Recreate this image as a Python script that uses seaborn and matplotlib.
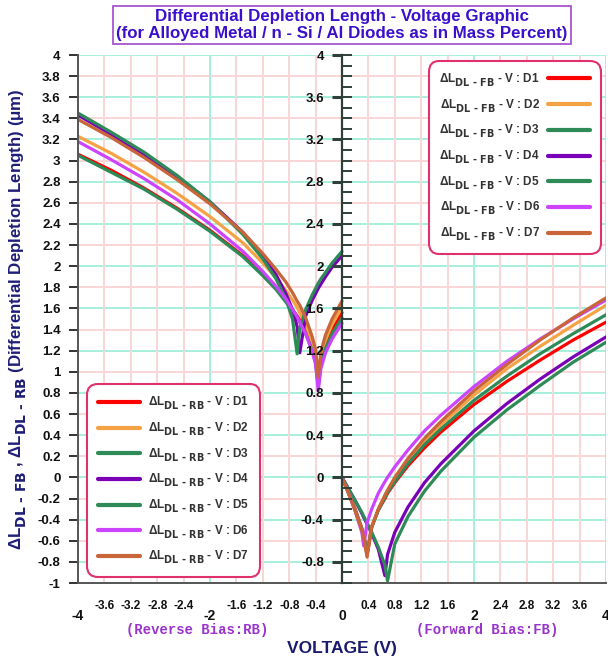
import numpy as np
import pandas as pd
import matplotlib
matplotlib.use("Agg")
import matplotlib.pyplot as plt
import matplotlib.transforms as mtransforms
import matplotlib._mathtext as _mt
from matplotlib.lines import Line2D
from matplotlib.ticker import FixedLocator, FuncFormatter
import seaborn as sns

# diodes and their colours
diodes = ["D1", "D2", "D3", "D4", "D5", "D6", "D7"]
colors = ["#ff0000", "#f5a245", "#2e8b57", "#7a00b8", "#2e8b57", "#cc44ff", "#c8663a"]

# reverse bias branch (V from -4 to 0)
v_rb = [-4.0, -3.5, -3.0, -2.5, -2.0, -1.5, -1.2, -1.0, -0.85, -0.75,
        -0.68, -0.64, -0.55, -0.45, -0.4, -0.36, -0.32, -0.25, -0.15, 0.0]
rb_d1 = [3.06, 2.91, 2.74, 2.55, 2.34, 2.10, 1.93, 1.79, 1.68, 1.59, 1.53, 1.49, 1.38, 1.22, 1.11, 0.88, 1.11, 1.26, 1.40, 1.56]
rb_d2 = [3.23, 3.07, 2.89, 2.69, 2.47, 2.22, 2.03, 1.89, 1.77, 1.68, 1.61, 1.56, 1.45, 1.28, 1.16, 0.92, 1.15, 1.30, 1.45, 1.61]
rb_d3 = [3.05, 2.89, 2.73, 2.54, 2.33, 2.09, 1.91, 1.78, 1.66, 1.58, 1.51, 1.47, 1.36, 1.20, 1.09, 0.86, 1.08, 1.22, 1.36, 1.51]
rb_d4 = [3.43, 3.25, 3.06, 2.85, 2.61, 2.32, 2.10, 1.92, 1.74, 1.59, 1.43, 1.18, 1.53, 1.68, 1.74, 1.79, 1.83, 1.90, 1.99, 2.10]
rb_d5 = [3.45, 3.27, 3.08, 2.86, 2.61, 2.30, 2.07, 1.88, 1.69, 1.50, 1.17, 1.41, 1.59, 1.73, 1.79, 1.84, 1.88, 1.94, 2.03, 2.14]
rb_d6 = [3.18, 3.01, 2.83, 2.63, 2.40, 2.14, 1.95, 1.81, 1.69, 1.59, 1.52, 1.47, 1.36, 1.19, 1.07, 0.82, 1.03, 1.18, 1.31, 1.46]
rb_d7 = [3.39, 3.22, 3.03, 2.82, 2.59, 2.32, 2.12, 1.97, 1.85, 1.75, 1.67, 1.63, 1.51, 1.33, 1.21, 0.95, 1.19, 1.35, 1.50, 1.67]

# forward bias branch (V from 0 to 4)
v_fb = [0.0, 0.1, 0.2, 0.3, 0.33, 0.38, 0.45, 0.55, 0.65, 0.69,
        0.8, 1.0, 1.25, 1.5, 2.0, 2.5, 3.0, 3.5, 4.0]
fb_d1 = [0, -0.15, -0.30, -0.48, -0.54, -0.72, -0.47, -0.31, -0.20, -0.15, -0.05, 0.11, 0.28, 0.43, 0.69, 0.91, 1.11, 1.30, 1.47]
fb_d2 = [0, -0.15, -0.31, -0.49, -0.56, -0.74, -0.47, -0.30, -0.17, -0.13, -0.02, 0.16, 0.34, 0.50, 0.78, 1.03, 1.24, 1.44, 1.63]
fb_d3 = [0, -0.15, -0.31, -0.49, -0.55, -0.73, -0.47, -0.31, -0.19, -0.14, -0.04, 0.13, 0.31, 0.46, 0.73, 0.96, 1.17, 1.36, 1.54]
fb_d4 = [0, -0.11, -0.22, -0.34, -0.38, -0.44, -0.53, -0.68, -0.93, -0.73, -0.52, -0.28, -0.05, 0.13, 0.44, 0.70, 0.93, 1.14, 1.33]
fb_d5 = [0, -0.11, -0.22, -0.33, -0.37, -0.43, -0.52, -0.66, -0.83, -0.98, -0.63, -0.37, -0.13, 0.06, 0.38, 0.64, 0.87, 1.09, 1.28]
fb_d6 = [0, -0.15, -0.32, -0.52, -0.65, -0.43, -0.30, -0.15, -0.04, 0.00, 0.10, 0.26, 0.44, 0.59, 0.86, 1.10, 1.31, 1.50, 1.68]
fb_d7 = [0, -0.15, -0.32, -0.50, -0.57, -0.755, -0.47, -0.30, -0.17, -0.12, 0.00, 0.18, 0.37, 0.53, 0.82, 1.07, 1.30, 1.51, 1.70]

rb_vals = [rb_d1, rb_d2, rb_d3, rb_d4, rb_d5, rb_d6, rb_d7]
fb_vals = [fb_d1, fb_d2, fb_d3, fb_d4, fb_d5, fb_d6, fb_d7]


def long_table(v, series):
    rows = []
    for name, vals in zip(diodes, series):
        for x, y in zip(v, vals):
            rows.append((name, x, y))
    return pd.DataFrame(rows, columns=["diode", "V", "L"])


df_rb = long_table(v_rb, rb_vals)
df_fb = long_table(v_fb, fb_vals)

sns.set_theme(style="white")
plt.rcParams.update({
    'font.weight': 'bold',
    'mathtext.default': 'regular',
    'axes.facecolor': 'white',
    'figure.facecolor': 'white',
})
plt.rcParams['font.family'] = ['Liberation Sans', 'DejaVu Sans']

# bigger and lower subscripts, like the original
_mt.SHRINK_FACTOR = 0.82
for name in dir(_mt):
    obj = getattr(_mt, name)
    if isinstance(obj, type) and name.endswith("FontConstants") or name == "FontConstantsBase":
        obj.sub1 = 0.6
        obj.sub2 = 0.6

fig = plt.figure(figsize=(6.08, 6.62), dpi=100)
ax = fig.add_axes([78 / 608, 79 / 662, 528 / 608, 528 / 662])
ax.set_xlim(-4, 4)
ax.set_ylim(-1, 4)

# grid: teal on the 0.4 steps, pink in between
teal, pink = "#a6f0dc", "#fad6d6"
for y in np.round(np.arange(-0.8, 4.01, 0.2), 1):
    c = teal if abs(round(y / 0.4) * 0.4 - y) < 1e-6 else pink
    ax.axhline(y, color=c, lw=1.4, zorder=0.5)
for x in np.round(np.arange(-3.6, 4.01, 0.4), 1):
    c = teal if abs(x) in (0.0, 2.0, 4.0) else pink
    ax.axvline(x, color=c, lw=1.4, zorder=0.5)

pal = dict(zip(diodes, colors))
sns.lineplot(data=df_rb, x="V", y="L", hue="diode", palette=pal, estimator=None,
             legend=False, linewidth=2.3, ax=ax)
sns.lineplot(data=df_fb, x="V", y="L", hue="diode", palette=pal, estimator=None,
             legend=False, linewidth=2.3, ax=ax)
ax.set_xlabel("")
ax.set_ylabel("")

for s in ["top", "right"]:
    ax.spines[s].set_visible(False)
for s in ["left", "bottom"]:
    ax.spines[s].set_color("#555555")
    ax.spines[s].set_linewidth(1.4)

fmt = FuncFormatter(lambda v, p: "{:g}".format(round(v, 1) + 0.0))
ax.yaxis.set_major_locator(FixedLocator(np.round(np.arange(-1, 4.01, 0.2), 1)))
ax.yaxis.set_major_formatter(fmt)
ax.tick_params(axis="y", which="major", direction="out", length=6.5, width=1.2,
               pad=6, labelsize=9.5, colors="#111111")

x_major = [-4, -2, 0, 2, 4]
x_minor = [-3.6, -3.2, -2.8, -2.4, -1.6, -1.2, -0.8, -0.4,
           0.4, 0.8, 1.2, 1.6, 2.4, 2.8, 3.2, 3.6]
ax.xaxis.set_major_locator(FixedLocator(x_major))
ax.xaxis.set_minor_locator(FixedLocator(x_minor))
ax.xaxis.set_major_formatter(fmt)
ax.xaxis.set_minor_formatter(fmt)
ax.tick_params(axis="x", which="major", direction="out", length=11, width=1.2,
               pad=8, labelsize=10, colors="#111111")
ax.tick_params(axis="x", which="minor", direction="out", length=6, width=1.2,
               pad=6.5, labelsize=8.5, colors="#111111")

# second y axis drawn through V = 0
ax2 = ax.twinx()
ax2.set_ylim(-1, 4)
for s in ["right", "top", "bottom"]:
    ax2.spines[s].set_visible(False)
ax2.spines["left"].set_visible(True)
ax2.spines["left"].set_position(("data", 0))
ax2.spines["left"].set_color("#2f3f3a")
ax2.spines["left"].set_linewidth(1.6)
ax2.yaxis.tick_left()
ax2.yaxis.set_major_locator(FixedLocator(np.round(np.arange(-0.8, 4.01, 0.4), 1)))
ax2.yaxis.set_minor_locator(FixedLocator(np.round(np.arange(-1, 4.01, 0.1), 1)))
ax2.yaxis.remove_overlapping_locs = False
ax2.yaxis.set_major_formatter(fmt)
ax2.tick_params(axis="y", which="major", direction="out", length=7, width=2.2,
                pad=6, labelsize=9.5, colors="#2f3f3a", labelcolor="#111111")
ax2.tick_params(axis="y", which="minor", direction="in", length=7, width=1.4,
                colors="#2f3f3a")

# legends
leg_kw = dict(bbox_transform=fig.transFigure, fontsize=8.5, handlelength=3.6,
              handletextpad=0.7, labelspacing=0.72, borderpad=0.9, borderaxespad=0,
              frameon=True, fancybox=True, framealpha=1, labelcolor="#333333")
fb_handles = [Line2D([], [], color=c, lw=3) for c in colors]
fb_labels = [r"ΔL$_{\text{DL - FB}}$ - V : " + d for d in diodes]
leg_fb = ax.legend(fb_handles, fb_labels, loc="upper right",
                   bbox_to_anchor=(601 / 608, 1 - 61 / 662), markerfirst=False, **leg_kw)
rb_labels = [r"ΔL$_{\text{DL - RB}}$ - V : " + d for d in diodes]
leg_rb = ax.legend(fb_handles, rb_labels, loc="lower left",
                   bbox_to_anchor=(87 / 608, 1 - 577 / 662), **leg_kw)
ax.add_artist(leg_fb)
for leg in (leg_fb, leg_rb):
    fr = leg.get_frame()
    fr.set_edgecolor("#e0306e")
    fr.set_linewidth(1.5)
    fr.set_boxstyle("round", pad=0, rounding_size=0.9)

# text
fig.text(342 / 608, 1 - 25 / 662,
         "Differential Depletion Length - Voltage Graphic\n"
         "(for Alloyed Metal / n - Si / Al Diodes as in Mass Percent)",
         ha="center", va="center", fontsize=12.2, color="#3a10cc", linespacing=1.1,
         bbox=dict(boxstyle="square,pad=0.2", fc="white", ec="#a855d0", lw=1.3))
fig.text(18 / 608, 1 - 319 / 662,
         r"ΔL$_{\text{DL - FB}}$ , ΔL$_{\text{DL - RB}}$ (Differential Depletion Length) (μm)",
         rotation=90, ha="center", va="center", fontsize=12.2, color="#1e1e78")
fig.text(342 / 608, 1 - 648 / 662, "VOLTAGE (V)", ha="center", va="center",
         fontsize=12.5, color="#1a1a6e")
trans = mtransforms.blended_transform_factory(ax.transData, fig.transFigure)
for xv, lab in [(-2.2, "(Reverse Bias:RB)"), (2.2, "(Forward Bias:FB)")]:
    ax.text(xv, 1 - 630 / 662, lab, transform=trans, ha="center", va="center",
            fontsize=10, color="#9933cc", family="Liberation Mono", fontweight="bold")

fig.savefig("out.png", dpi=100)
